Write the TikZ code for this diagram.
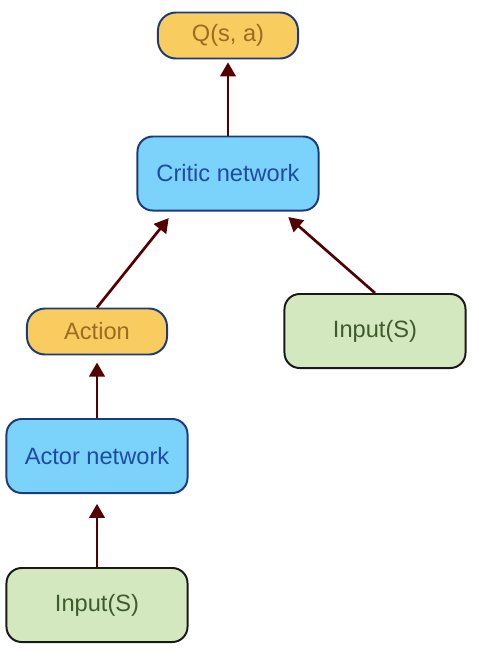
\documentclass[tikz,border=0pt]{standalone}
\usepackage{fontspec}
\setmainfont{Liberation Sans}
\usepackage{xcolor}
\usetikzlibrary{positioning, calc, arrows.meta}

\definecolor{pillfill}{HTML}{F9CC5F}
\definecolor{pilltext}{HTML}{9E6A24}
\definecolor{netfill}{HTML}{7BD3FB}
\definecolor{nettext}{HTML}{1F4BA5}
\definecolor{infill}{HTML}{D4E8BF}
\definecolor{intext}{HTML}{3F5B2B}
\definecolor{edge}{HTML}{1B3B7B}
\definecolor{arwcol}{HTML}{520000}

\begin{document}
\begin{tikzpicture}[
    x=0.025cm, y=-0.025cm,
    block/.style={draw, line width=1.4pt, rounded corners=0.38cm,
                  minimum width=4.525cm, minimum height=1.85cm,
                  align=center, inner sep=2pt,
                  font=\fontsize{16.8}{20}\selectfont},
    pill/.style={block, draw=edge, fill=pillfill, text=pilltext,
                 minimum width=3.5cm, minimum height=1.15cm,
                 rounded corners=0.45cm},
    net/.style={block, draw=edge, fill=netfill, text=nettext},
    inbox/.style={block, draw=black!90, fill=infill, text=intext},
    arw/.style={-{Triangle[width=11pt, length=10pt]}, line width=1.9pt,
                arwcol},
]
\useasboundingbox (0,0) rectangle (479,660);

% --- nodes ---
\node[pill] (qsa) at (228, 35.5) {Q(s, a)};
\node[net] (critic) at (228, 173.5) {Critic network};
\node[pill] (action) at (97, 331.5) {Action};
\node[inbox] (inR) at (375, 331) {Input(S)};
\node[net] (actor) at (97, 456) {Actor network};
\node[inbox] (inB) at (97, 605) {Input(S)};

% critic entry points
\coordinate (critL) at ($(critic.south)+(-54,0)$);
\coordinate (critR) at ($(critic.south)+(54,0)$);

% --- arrows ---
\draw[arw, shorten >=2pt] (critic.north) -- (qsa.south);
\draw[arw, shorten >=6pt] (action.north) -- (critL);
\draw[arw, shorten >=6pt] (inR.north) -- (critR);
\draw[arw, shorten >=5pt] (actor.north) -- (action.south);
\draw[arw, shorten >=7pt] (inB.north) -- (actor.south);
\end{tikzpicture}
\end{document}
